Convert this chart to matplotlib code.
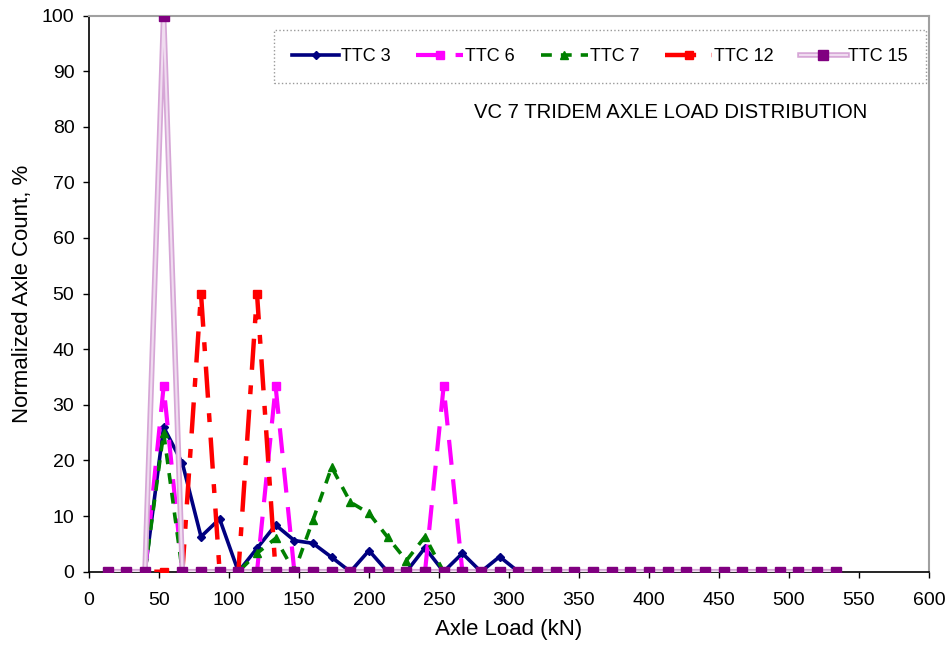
import numpy as np
import matplotlib
matplotlib.use("Agg")
import matplotlib.pyplot as plt
from matplotlib.legend_handler import HandlerTuple

plt.rcParams['font.family'] = ['Liberation Sans', 'DejaVu Sans']

# Axle load bins (kN)
axle_load = [13.3, 26.7, 40.0, 53.3, 66.7, 80.0, 93.3, 106.7, 120.0, 133.3,
             146.7, 160.0, 173.3, 186.7, 200.0, 213.3, 226.7, 240.0, 253.3, 266.7,
             280.0, 293.3, 306.7, 320.0, 333.3, 346.7, 360.0, 373.3, 386.7, 400.0,
             413.3, 426.7, 440.0, 453.3, 466.7, 480.0, 493.3, 506.7, 520.0, 533.3]

ttc3 = [0, 0, 0, 26.0, 19.5, 6.3, 9.5, 0, 4.2, 8.4,
        5.6, 5.1, 2.6, 0, 3.8, 0, 0, 4.3, 0, 3.3,
        0, 2.7, 0, 0, 0, 0, 0, 0, 0, 0,
        0, 0, 0, 0, 0, 0, 0, 0, 0, 0]
ttc6 = [0, 0, 0, 33.3, 0, 0, 0, 0, 0, 33.3,
        0, 0, 0, 0, 0, 0, 0, 0, 33.3, 0,
        0, 0, 0, 0, 0, 0, 0, 0, 0, 0,
        0, 0, 0, 0, 0, 0, 0, 0, 0, 0]
ttc7 = [0, 0, 0, 25.0, 0, 0, 0, 0, 3.3, 6.0,
        0, 9.3, 18.8, 12.5, 10.5, 6.2, 2.0, 6.3, 0, 0,
        0, 0, 0, 0, 0, 0, 0, 0, 0, 0,
        0, 0, 0, 0, 0, 0, 0, 0, 0, 0]
ttc12 = [0, 0, 0, 0, 0, 50.0, 0, 0, 50.0, 0,
         0, 0, 0, 0, 0, 0, 0, 0, 0, 0,
         0, 0, 0, 0, 0, 0, 0, 0, 0, 0,
         0, 0, 0, 0, 0, 0, 0, 0, 0, 0]
ttc15 = [0, 0, 0, 100.0, 0, 0, 0, 0, 0, 0,
         0, 0, 0, 0, 0, 0, 0, 0, 0, 0,
         0, 0, 0, 0, 0, 0, 0, 0, 0, 0,
         0, 0, 0, 0, 0, 0, 0, 0, 0, 0]

series_names = ['TTC 3', 'TTC 6', 'TTC 7', 'TTC 12', 'TTC 15']
x_ticks = [0, 50, 100, 150, 200, 250, 300, 350, 400, 450, 500, 550, 600]
y_ticks = [0, 10, 20, 30, 40, 50, 60, 70, 80, 90, 100]

W, H = 949, 650
L, R, T, B = 89, 929, 15.5, 571.7
fig = plt.figure(figsize=(W / 100, H / 100), dpi=100)
ax = fig.add_axes([L / W, 1 - B / H, (R - L) / W, (B - T) / H])

x = np.array(axle_load)

h3, = ax.plot(x, ttc3, color='#000080', lw=2.6, ls='-', marker='D', ms=4.5,
              mfc='#000080', mec='#000080', zorder=3)
h6, = ax.plot(x, ttc6, color='#FF00FF', lw=3.0, ls=(0, (6, 3.5)), marker='s', ms=6,
              mfc='#FF00FF', mec='#FF00FF', zorder=3)
h7, = ax.plot(x, ttc7, color='#008000', lw=2.6, ls=(0, (3, 2.5)), marker='^', ms=6,
              mfc='#008000', mec='#008000', zorder=3)
h12, = ax.plot(x, ttc12, color='#FF0000', lw=3.2, ls=(0, (7, 3.5, 2, 3.5)), marker='s', ms=6,
               mfc='#FF0000', mec='#FF0000', zorder=3)
h15a, = ax.plot(x, ttc15, color='#D6A6D6', lw=4.0, ls='-', zorder=4)
h15b, = ax.plot(x, ttc15, color='#F0DCF0', lw=1.5, ls='-', marker='s', ms=6.5,
                mfc='#800080', mec='#800080', zorder=4)

ax.set_xlim(0, 600)
ax.set_ylim(0, 100)
ax.set_xticks(x_ticks)
ax.set_yticks(y_ticks)
ax.tick_params(axis='both', direction='out', length=4.5, width=1, labelsize=14,
               colors='black')
ax.tick_params(axis='x', pad=10)
ax.tick_params(axis='y', pad=6)

for side in ['top', 'right']:
    ax.spines[side].set_color('#A0A0A0')
    ax.spines[side].set_linewidth(1.5)
for side in ['left', 'bottom']:
    ax.spines[side].set_color('black')
    ax.spines[side].set_linewidth(1.2)

ax.set_xlabel('Axle Load (kN)', fontsize=16, labelpad=7)
ax.set_ylabel('Normalized Axle Count, %', fontsize=16, labelpad=6)

ax.text((671 - L) / 1.4, (B - 113) / ((B - T) / 100), 'VC 7 TRIDEM AXLE LOAD DISTRIBUTION',
        fontsize=14.6, ha='center', va='center')

aw, ah = R - L, B - T
leg = ax.legend([h3, h6, h7, h12, (h15a, h15b)], series_names,
                handler_map={tuple: HandlerTuple(ndivide=1, pad=0)},
                loc='lower left',
                bbox_to_anchor=((274 - L) / aw, (B - 83) / ah, (926 - 274) / aw, (83 - 30) / ah),
                mode='expand', ncol=5, frameon=True, fancybox=False, fontsize=13,
                handlelength=2.6, handletextpad=0.1, columnspacing=1.2,
                borderaxespad=0, borderpad=1.0)
frame = leg.get_frame()
frame.set_edgecolor('#808080')
frame.set_linestyle(':')
frame.set_linewidth(1.0)

fig.savefig('out.png', dpi=100)
